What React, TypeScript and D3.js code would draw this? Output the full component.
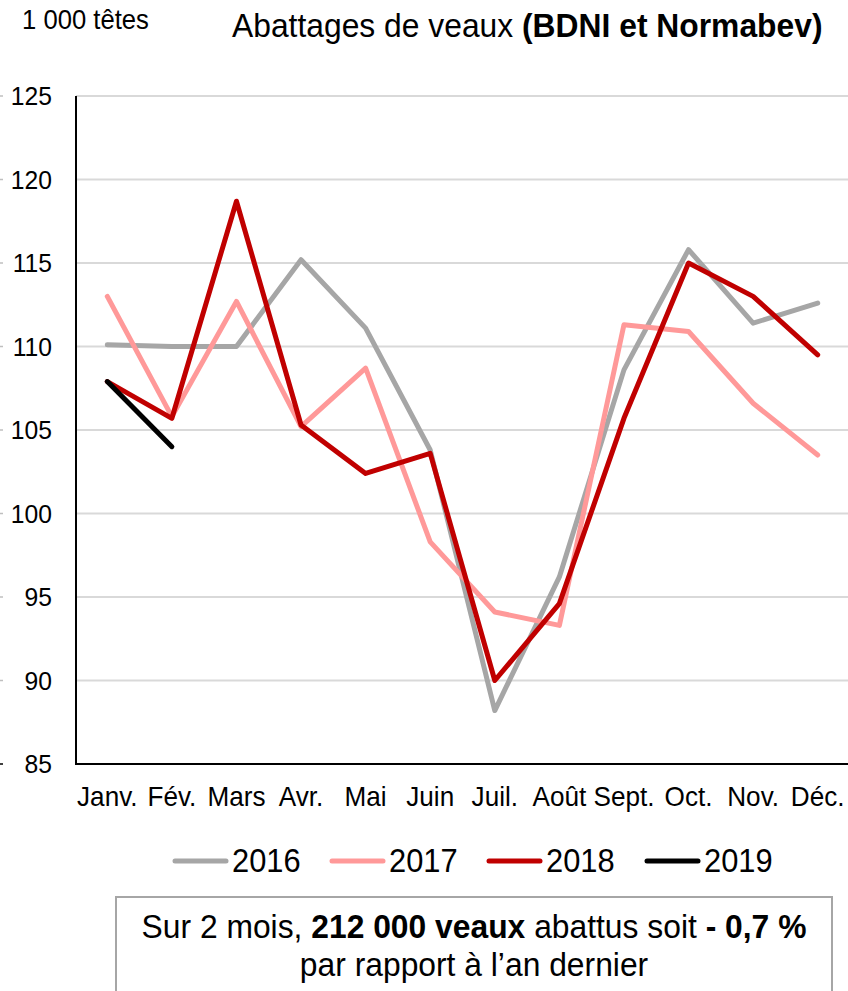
import React from "react";
import * as d3 from "d3";

const months = ["Janv.", "Fév.", "Mars", "Avr.", "Mai", "Juin", "Juil.", "Août", "Sept.", "Oct.", "Nov.", "Déc."];
const yTicks = [85, 90, 95, 100, 105, 110, 115, 120, 125];
const s2016 = [110.1, 110.0, 110.0, 115.2, 111.1, 103.8, 88.2, 96.2, 108.6, 115.8, 111.4, 112.6];
const s2017 = [113.0, 105.8, 112.7, 105.2, 108.7, 98.3, 94.1, 93.3, 111.3, 110.9, 106.6, 103.5];
const s2018 = [107.9, 105.7, 118.7, 105.3, 102.4, 103.6, 90.0, 94.6, 105.7, 115.0, 113.0, 109.5];
const s2019 = [107.9, 104.0];
const seriesNames = ["2016", "2017", "2018", "2019"];
const seriesColors = ["#a6a6a6", "#ff9999", "#c00000", "#000000"];
const seriesData = [s2016, s2017, s2018, s2019];

const FONT = "'Liberation Sans', Arial, sans-serif";

function T({ x, y, size, anchor = "start", children, sx = 0.95 }: any) {
  return (
    <text
      transform={`translate(${x},${y}) scale(${sx},1)`}
      fontSize={size}
      fontFamily={FONT}
      textAnchor={anchor}
      fill="#000"
    >
      {children}
    </text>
  );
}

export default function App() {
  const W = 848, H = 991;
  const left = 76, right = 850, top = 96, bottom = 764;
  const x = d3.scaleBand<string>().domain(months).range([left - 1, right]);
  const y = d3.scaleLinear().domain([85, 125]).range([bottom, top]);
  const cx = (i: number) => (x(months[i]) as number) + x.bandwidth() / 2;
  const line = d3
    .line<number>()
    .x((_, i) => cx(i))
    .y((d) => y(d));

  const legendX = [173, 330, 487, 645];

  return (
    <div style={{ position: "absolute", left: 0, top: 0 }}>
      <svg width={W} height={H} style={{ display: "block", background: "#fff" }}>
        <rect x={0} y={0} width={W} height={H} fill="#fff" />
        <T x={22} y={29} size={27}>1 000 têtes</T>
        <T x={232} y={37} size={33.5}>
          Abattages de veaux <tspan fontWeight="bold">(BDNI et Normabev)</tspan>
        </T>

        {yTicks.map((t) => (
          <g key={t}>
            {t !== 85 && (
              <line x1={left} x2={W} y1={y(t)} y2={y(t)} stroke="#d9d9d9" strokeWidth={2} />
            )}
            <line x1={0} x2={3} y1={y(t)} y2={y(t)} stroke={t === 85 ? "#000" : "#bfbfbf"} strokeWidth={1.5} />
            <T x={52} y={y(t) + 9} size={26} anchor="end">{t}</T>
          </g>
        ))}

        <line x1={left} x2={left} y1={top} y2={bottom} stroke="#000" strokeWidth={2} />
        <line x1={left - 1} x2={W} y1={bottom} y2={bottom} stroke="#000" strokeWidth={2} />

        {months.map((m, i) => (
          <T key={m} x={cx(i)} y={806} size={27.5} anchor="middle">{m}</T>
        ))}

        {seriesData.map((d, k) => (
          <path
            key={seriesNames[k]}
            d={line(d) || ""}
            fill="none"
            stroke={seriesColors[k]}
            strokeWidth={5}
            strokeLinejoin="round"
            strokeLinecap="round"
          />
        ))}

        {seriesNames.map((n, k) => (
          <g key={n}>
            <line
              x1={legendX[k] + 2}
              x2={legendX[k] + 53}
              y1={861}
              y2={861}
              stroke={seriesColors[k]}
              strokeWidth={5}
              strokeLinecap="round"
            />
            <T x={legendX[k] + 59} y={872} size={32.5}>{n}</T>
          </g>
        ))}

        <rect x={116} y={897} width={716} height={110} fill="#fff" stroke="#a6a6a6" strokeWidth={2} />
        <T x={474} y={938} size={33.5} anchor="middle">
          Sur 2 mois, <tspan fontWeight="bold">212 000 veaux</tspan> abattus soit{" "}
          <tspan fontWeight="bold">- 0,7 %</tspan>
        </T>
        <T x={474} y={976} size={33.5} anchor="middle">par rapport à l’an dernier</T>
      </svg>
    </div>
  );
}
